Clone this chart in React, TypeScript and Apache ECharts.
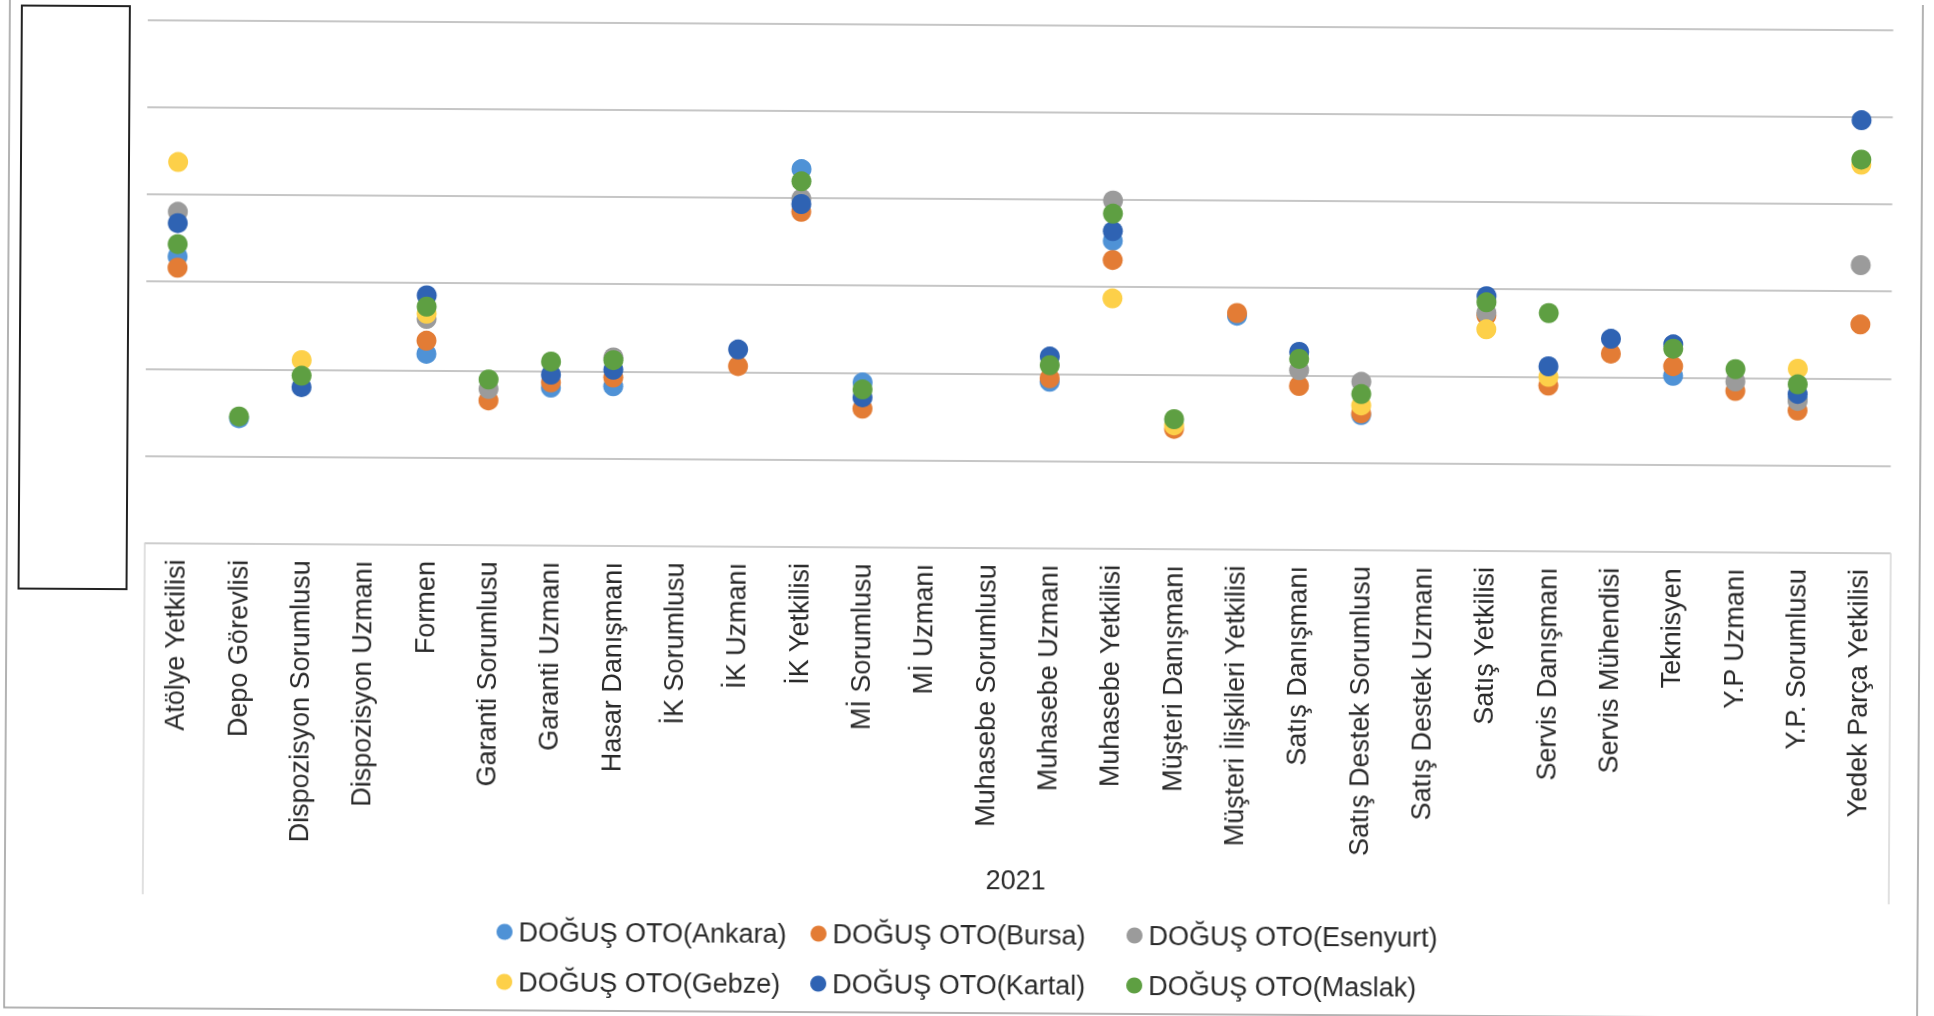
import React, { useEffect, useRef } from "react";
import * as echarts from "echarts";

// Job titles along the category axis
const categories = [
  "Atölye Yetkilisi",
  "Depo Görevlisi",
  "Dispozisyon Sorumlusu",
  "Dispozisyon Uzmanı",
  "Formen",
  "Garanti Sorumlusu",
  "Garanti Uzmanı",
  "Hasar Danışmanı",
  "İK Sorumlusu",
  "İK Uzmanı",
  "İK Yetkilisi",
  "Mİ Sorumlusu",
  "Mİ Uzmanı",
  "Muhasebe Sorumlusu",
  "Muhasebe Uzmanı",
  "Muhasebe Yetkilisi",
  "Müşteri Danışmanı",
  "Müşteri İlişkileri Yetkilisi",
  "Satış Danışmanı",
  "Satış Destek Sorumlusu",
  "Satış Destek Uzmanı",
  "Satış Yetkilisi",
  "Servis Danışmanı",
  "Servis Mühendisi",
  "Teknisyen",
  "Y.P Uzmanı",
  "Y.P. Sorumlusu",
  "Yedek Parça Yetkilisi",
];

// Outer group label of the category axis
const groupLabels = ["2021"];

// One value per job title and branch (null = no entry)
const ankara = [3.29, 1.44, null, null, 2.19, null, 1.81, 1.83, null, null, 4.33, 1.89, null, null, 1.91, 3.53, null, 2.68, null, 1.55, null, null, null, null, 2.02, null, 1.76, null];
const bursa = [3.16, null, null, null, 2.34, 1.66, 1.87, 1.93, null, 2.07, 3.84, 1.59, null, null, 1.95, 3.31, 1.38, 2.71, 1.88, 1.57, null, 2.7, 1.9, 2.27, 2.13, 1.85, 1.63, 2.62];
const esenyurt = [3.8, null, null, null, 2.59, 1.79, null, 2.16, null, null, 3.99, null, null, null, null, 3.99, null, null, 2.06, 1.93, null, 2.73, null, null, null, 1.96, 1.74, 3.3];
const gebze = [4.37, null, 2.11, null, 2.65, null, null, null, null, null, null, null, null, null, null, 2.87, 1.42, null, null, 1.66, null, 2.54, 2.0, null, null, null, 2.11, 4.45];
const kartal = [3.67, null, 1.8, null, 2.86, null, 1.96, 2.02, null, 2.26, 3.93, 1.72, null, null, 2.2, 3.64, null, null, 2.27, null, null, 2.92, 2.12, 2.44, 2.38, null, 1.82, 4.96];
const maslak = [3.43, 1.46, 1.93, null, 2.73, 1.9, 2.11, 2.13, null, null, 4.19, 1.81, null, null, 2.1, 3.84, 1.49, null, 2.19, 1.79, null, 2.85, 2.73, null, 2.33, 2.1, 1.93, 4.51];

const seriesNames = [
  "DOĞUŞ OTO(Ankara)",
  "DOĞUŞ OTO(Bursa)",
  "DOĞUŞ OTO(Esenyurt)",
  "DOĞUŞ OTO(Gebze)",
  "DOĞUŞ OTO(Kartal)",
  "DOĞUŞ OTO(Maslak)",
];
const seriesColors = ["#4f92d6", "#e37c35", "#9b9b9b", "#fdd049", "#2f63b3", "#5e9f42"];

// Legend laid out as three columns of two entries
const legendColumns = [
  ["DOĞUŞ OTO(Ankara)", "DOĞUŞ OTO(Gebze)"],
  ["DOĞUŞ OTO(Bursa)", "DOĞUŞ OTO(Kartal)"],
  ["DOĞUŞ OTO(Esenyurt)", "DOĞUŞ OTO(Maslak)"],
];
const legendLefts = [494, 808, 1124];

export default function App() {
  const ref = useRef<HTMLDivElement>(null);

  useEffect(() => {
    if (!ref.current) return;
    const chart = echarts.init(ref.current, null, { renderer: "svg" });
    const font = "'Liberation Sans', Arial, sans-serif";
    const valuesBySeries = [ankara, bursa, esenyurt, gebze, kartal, maslak];

    chart.setOption({
      animation: false,
      backgroundColor: "#ffffff",
      textStyle: { fontFamily: font },
      grid: { left: 145, right: 43.5, top: 24.3, height: 523.8 },
      xAxis: [
        {
          type: "category",
          data: categories,
          position: "bottom",
          boundaryGap: true,
          axisLine: { show: true, lineStyle: { color: "#d0d0d0", width: 1.5 } },
          axisTick: { show: false },
          splitLine: { show: false },
          axisLabel: {
            interval: 0,
            rotate: 90,
            margin: 16,
            fontSize: 27,
            color: "#2a2a2a",
            fontFamily: font,
          },
        },
        {
          type: "category",
          data: groupLabels,
          position: "bottom",
          boundaryGap: true,
          axisLine: { show: false },
          axisTick: { show: true, length: 351, lineStyle: { color: "#d6d6d6", width: 1.5 } },
          splitLine: { show: false },
          axisLabel: { margin: 318, fontSize: 27, color: "#2a2a2a", fontFamily: font },
        },
      ],
      yAxis: {
        type: "value",
        min: 0,
        max: 6,
        interval: 1,
        axisLabel: { show: false },
        axisLine: { show: false },
        axisTick: { show: false },
        splitLine: { show: true, lineStyle: { color: "#b3b3b3", width: 1.5 } },
      },
      legend: legendColumns.map((names, c) => ({
        orient: "vertical",
        left: legendLefts[c],
        top: 914,
        itemWidth: 16,
        itemHeight: 16,
        itemGap: 19,
        icon: "circle",
        selectedMode: false,
        data: names,
        textStyle: {
          fontSize: 27,
          lineHeight: 31,
          color: "#2a2a2a",
          fontFamily: font,
          padding: [0, 0, 0, 1],
        },
      })),
      series: valuesBySeries.map((vals, k) => ({
        type: "scatter",
        name: seriesNames[k],
        xAxisIndex: 0,
        symbol: "circle",
        symbolSize: 20,
        itemStyle: { color: seriesColors[k], opacity: 1 },
        data: vals
          .map((v, i) => (v == null ? null : [categories[i], v]))
          .filter((d) => d !== null),
      })),
      graphic: [
        {
          type: "rect",
          shape: { x: 7, y: -4, width: 1913, height: 1017 },
          style: { fill: "none", stroke: "#9a9a9a", lineWidth: 1.5 },
          silent: true,
        },
        {
          type: "rect",
          shape: { x: 19, y: 11, width: 108, height: 583 },
          style: { fill: "none", stroke: "#222222", lineWidth: 2 },
          silent: true,
        },
      ],
    });

    return () => chart.dispose();
  }, []);

  return (
    <div
      style={{
        position: "fixed",
        left: 0,
        top: 0,
        width: 1934,
        height: 1016,
        background: "#ffffff",
        transform: "rotate(0.33deg)",
      }}
    >
      <div ref={ref} style={{ width: 1934, height: 1016 }} />
    </div>
  );
}
